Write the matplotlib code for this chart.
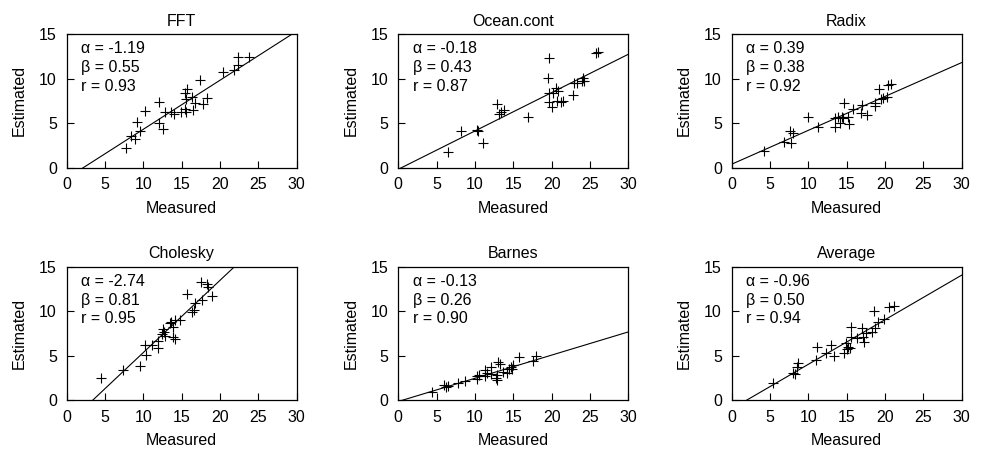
import matplotlib
matplotlib.use("Agg")
import matplotlib.pyplot as plt

plt.rcParams["font.family"] = ["Liberation Sans", "DejaVu Sans"]
plt.rcParams["font.size"] = 11

titles = ["FFT", "Ocean.cont", "Radix", "Cholesky", "Barnes", "Average"]
alphas = [-1.19, -0.18, 0.39, -2.74, -0.13, -0.96]
betas = [0.55, 0.43, 0.38, 0.81, 0.26, 0.50]
rvals = [0.93, 0.87, 0.92, 0.95, 0.90, 0.94]

fft_x = [7.8, 8.45, 8.89, 9.19, 9.54, 10.19, 12.05, 12.0, 12.57, 12.87, 13.65, 13.96,
         14.96, 15.39, 15.39, 15.69, 15.52, 15.6, 16.38, 16.69, 16.47, 17.34, 17.77,
         18.29, 20.37, 21.89, 22.41, 22.41, 23.75]
fft_y = [2.24, 3.55, 3.18, 5.09, 4.12, 6.36, 7.33, 5.05, 4.30, 6.21, 6.21, 5.99,
         6.21, 6.55, 8.34, 8.79, 7.67, 6.28, 7.89, 7.22, 6.47, 9.84, 7.15,
         7.86, 10.77, 10.96, 12.38, 11.52, 12.38]

ocean_x = [6.43, 8.17, 10.22, 10.35, 11.0, 12.83, 13.17, 13.35, 13.83, 16.96, 19.65,
           19.57, 19.70, 19.70, 20.0, 20.22, 20.57, 20.65, 20.87, 21.17, 21.52, 22.74,
           22.91, 23.26, 23.91, 24.13, 24.2, 25.74, 26.09]
ocean_y = [1.80, 4.15, 4.23, 4.15, 2.73, 7.15, 6.02, 6.28, 6.47, 5.65, 12.27,
           10.03, 8.34, 7.41, 6.77, 8.34, 8.90, 7.48, 8.64, 7.41, 7.52, 8.16,
           9.47, 9.54, 9.76, 10.03, 9.76, 12.91, 13.02]

radix_x = [4.26, 6.87, 7.61, 7.96, 7.74, 10.0, 11.30, 13.48, 13.48, 13.91, 14.13,
           14.35, 14.57, 14.65, 15.22, 15.35, 15.87, 16.83, 16.96, 17.61, 18.70,
           18.70, 19.26, 19.43, 19.78, 20.22, 20.43, 20.74]
radix_y = [1.87, 2.92, 4.12, 3.85, 2.73, 5.72, 4.60, 4.60, 5.54, 5.65, 5.05,
           5.72, 5.54, 7.30, 5.65, 4.90, 6.55, 6.17, 7.03, 5.91, 6.92,
           7.30, 8.79, 7.67, 7.78, 7.89, 9.28, 9.35]

chol_x = [4.43, 7.39, 9.57, 10.35, 10.22, 11.09, 11.87, 11.87, 12.39, 12.52, 12.70,
          12.83, 13.48, 13.61, 13.83, 13.91, 14.13, 14.13, 14.78, 15.74, 16.30,
          16.65, 16.74, 17.61, 17.48, 18.26, 18.39, 18.91]
chol_y = [2.46, 3.40, 3.84, 5.07, 6.19, 6.19, 5.82, 6.68, 7.43, 7.95, 7.69,
          7.20, 8.62, 8.81, 8.25, 7.05, 6.83, 8.99, 8.99, 11.90, 9.93,
          10.11, 10.86, 11.23, 13.28, 13.10, 12.72, 11.72]

barnes_x = [4.35, 6.0, 6.22, 6.52, 7.74, 8.70, 10.30, 10.30, 10.57, 11.30, 11.30,
            11.61, 12.09, 12.04, 12.74, 12.83, 12.91, 13.04, 13.26, 13.70, 14.22,
            14.43, 14.65, 14.78, 14.91, 15.74, 17.52, 17.96]
barnes_y = [0.97, 1.72, 1.53, 1.60, 1.90, 2.20, 2.35, 2.72, 2.84, 2.72, 3.40,
            3.02, 2.95, 3.77, 2.46, 2.84, 2.28, 4.33, 4.07, 3.21, 3.10,
            3.47, 3.77, 3.47, 3.96, 4.81, 4.44, 4.96]

avg_x = [5.33, 7.99, 8.30, 8.52, 8.65, 11.05, 11.14, 12.36, 12.97, 13.32, 14.63,
         14.85, 14.98, 15.15, 15.37, 15.59, 15.59, 16.38, 17.03, 17.16, 17.25,
         17.47, 18.34, 18.56, 18.65, 19.08, 19.87, 20.52, 21.18]
avg_y = [1.90, 3.02, 2.95, 3.69, 4.22, 4.51, 5.93, 5.26, 6.19, 5.0, 5.34,
         6.38, 5.71, 6.01, 5.82, 8.17, 7.13, 6.94, 8.13, 7.05, 6.57,
         7.50, 7.69, 10.04, 8.06, 8.81, 9.10, 10.49, 10.56]

xs = [fft_x, ocean_x, radix_x, chol_x, barnes_x, avg_x]
ys = [fft_y, ocean_y, radix_y, chol_y, barnes_y, avg_y]

fig = plt.figure(figsize=(9.82, 4.51), dpi=100)
lefts = [0.0679, 0.4056, 0.7451]
bottoms = [0.6282, 0.1124]
w, h = 0.2342, 0.2965

for i in range(6):
    ax = fig.add_axes([lefts[i % 3], bottoms[i // 3], w, h])
    ax.plot(xs[i], ys[i], "k+", markersize=6.5, markeredgewidth=0.8)
    # fitted line: estimated = alpha + beta * measured
    lx = [0, 30]
    ly = [alphas[i] + betas[i] * v for v in lx]
    ax.plot(lx, ly, color="black", linewidth=0.8)
    ax.set_xlim(0, 30)
    ax.set_ylim(0, 15)
    ax.set_xticks([0, 5, 10, 15, 20, 25, 30])
    ax.set_yticks([0, 5, 10, 15])
    ax.tick_params(direction="in", length=5, width=0.8, top=False, right=False,
                   labelsize=11.5, pad=7)
    for s in ax.spines.values():
        s.set_linewidth(0.9)
    ax.set_title(titles[i], fontsize=11.5, pad=6)
    ax.set_xlabel("Measured", fontsize=11.5, labelpad=6)
    ax.set_ylabel("Estimated", fontsize=11.5, labelpad=9)
    txt = "\u03b1 = %.2f\n\u03b2 = %.2f\nr = %.2f" % (alphas[i], betas[i], rvals[i])
    ax.text(0.062, 0.945, txt, transform=ax.transAxes, ha="left", va="top",
            fontsize=11.5, linespacing=1.3)

fig.savefig("out.png", dpi=100)
